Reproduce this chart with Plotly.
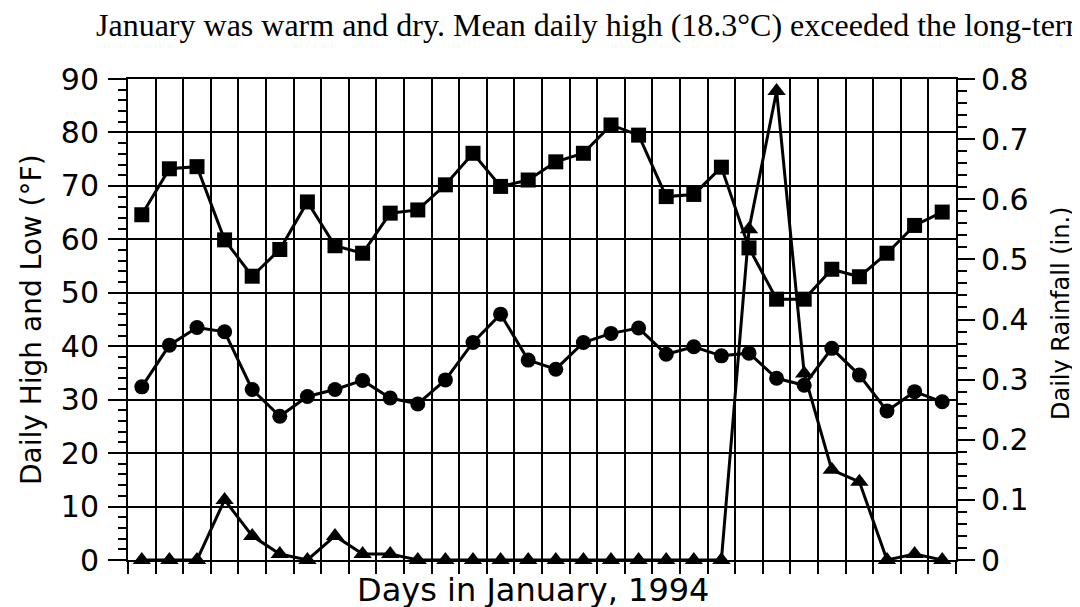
import plotly.graph_objects as go

# ---- data ----
days = list(range(1, 31))
high_f = [64.6, 73.2, 73.6, 59.9, 53.1, 58.1, 67.0, 58.8, 57.4, 64.9,
          65.5, 70.2, 76.1, 69.9, 71.1, 74.5, 76.1, 81.4, 79.5, 68.0,
          68.4, 73.5, 58.4, 48.8, 48.8, 54.4, 53.0, 57.4, 62.6, 65.1]
low_f = [32.4, 40.2, 43.5, 42.7, 31.9, 26.9, 30.6, 31.9, 33.6, 30.3,
         29.2, 33.7, 40.7, 46.0, 37.4, 35.7, 40.7, 42.4, 43.4, 38.5,
         39.9, 38.2, 38.7, 34.0, 32.7, 39.6, 34.6, 27.9, 31.5, 29.6]
rain_in = [0, 0, 0, 0.10, 0.04, 0.01, 0, 0.04, 0.01, 0.01,
           0, 0, 0, 0, 0, 0, 0, 0, 0, 0,
           0, 0, 0.55, 0.78, 0.31, 0.15, 0.13, 0, 0.01, 0]
grid_x = [d + 0.5 for d in range(0, 31)]

title_text = "January was warm and dry. Mean daily high (18.3°C) exceeded the long-term"
x_title = "Days in January, 1994"
y_title = "Daily High and Low (°F)"
y2_title = "Daily Rainfall (in.)"

SANS = "DejaVu Sans"
SERIF = "Liberation Serif, Times New Roman, serif"

fig = go.Figure()
fig.add_trace(go.Scatter(x=days, y=high_f, mode="lines+markers",
                         line=dict(color="black", width=3),
                         marker=dict(symbol="square", size=15, color="black"),
                         showlegend=False))
fig.add_trace(go.Scatter(x=days, y=low_f, mode="lines+markers",
                         line=dict(color="black", width=3),
                         marker=dict(symbol="circle", size=15, color="black"),
                         showlegend=False))
fig.add_trace(go.Scatter(x=days, y=rain_in, mode="lines+markers", yaxis="y2",
                         line=dict(color="black", width=3),
                         marker=dict(symbol="triangle-up", size=16, color="black"),
                         showlegend=False, cliponaxis=False))

# page body has an 8px margin: the figure starts at (8, 8) on screen
OFF = 8
W, H = 1080 - OFF, 607 - OFF
L, T = 128 - OFF, 79 - OFF
R = W - (956 - OFF)
B = H - (560 - OFF)
pw, ph = W - L - R, H - T - B

def px(xs):
    return (xs - OFF - L) / pw

def py(ys):
    return (H - B - (ys - OFF)) / ph

fig.update_layout(
    width=W, height=H,
    margin=dict(l=L, r=R, t=T, b=B, pad=0),
    paper_bgcolor="white", plot_bgcolor="white",
    font=dict(family=SANS, color="black"),
    xaxis=dict(range=[0.5, 30.5], tickvals=grid_x, showticklabels=False,
               ticks="outside", ticklen=12, tickwidth=2, tickcolor="black",
               showgrid=True, gridcolor="black", gridwidth=2,
               showline=True, linecolor="black", linewidth=2, mirror=True,
               zeroline=False),
    yaxis=dict(range=[0, 90], dtick=10, tick0=0,
               ticks="outside", ticklen=18, tickwidth=2, tickcolor="black",
               tickfont=dict(family=SANS, size=30, color="black"),
               ticklabelstandoff=3,
               showgrid=True, gridcolor="black", gridwidth=2,
               showline=True, linecolor="black", linewidth=2, mirror=True,
               zeroline=False,
               minor=dict(dtick=2, ticks="outside", ticklen=8, tickwidth=2,
                          tickcolor="black", showgrid=False)),
    yaxis2=dict(range=[0, 0.8], dtick=0.1, tick0=0, overlaying="y", side="right",
                ticks="outside", ticklen=17, tickwidth=2, tickcolor="black",
                tickfont=dict(family=SANS, size=30, color="black"),
                showgrid=False, zeroline=False,
                showline=True, linecolor="black", linewidth=2,
                minor=dict(dtick=0.02, ticks="outside", ticklen=9, tickwidth=2,
                           tickcolor="black", showgrid=False)),
    annotations=[
        dict(text=title_text, xref="paper", yref="paper", x=px(94), y=py(25),
             xanchor="left", yanchor="middle", showarrow=False,
             font=dict(family=SERIF, size=32, color="black")),
        dict(text=x_title, xref="paper", yref="paper", x=px(533), y=py(590),
             xanchor="center", yanchor="middle", showarrow=False,
             font=dict(family=SANS, size=32, color="black")),
        dict(text=y_title, xref="paper", yref="paper", x=px(31), y=py(320),
             xanchor="center", yanchor="middle", showarrow=False, textangle=-90,
             font=dict(family=SANS, size=28, color="black")),
        dict(text=y2_title, xref="paper", yref="paper", x=px(1061), y=py(314),
             xanchor="center", yanchor="middle", showarrow=False, textangle=-90,
             font=dict(family=SANS, size=24, color="black")),
    ],
)

fig.write_html("out.html")
